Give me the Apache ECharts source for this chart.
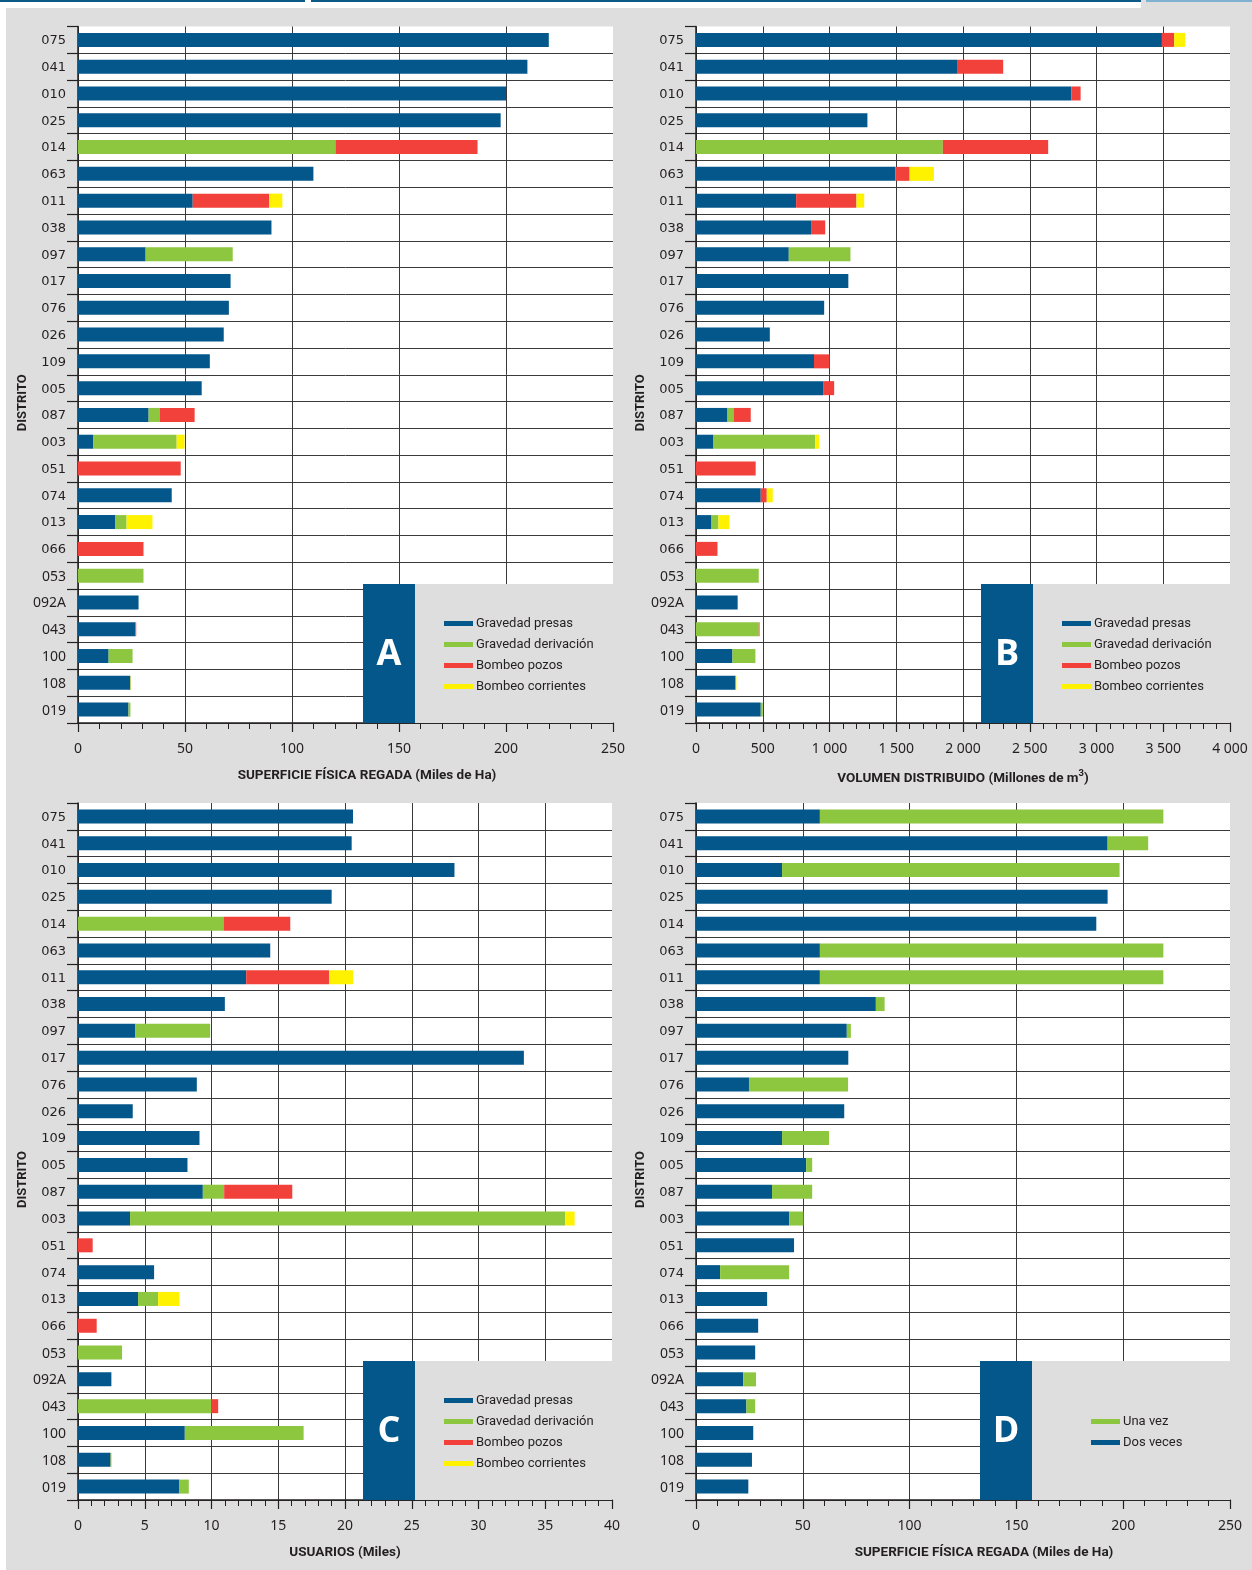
<!DOCTYPE html>
<html>
<head>
<meta charset="utf-8">
<script src="https://cdn.jsdelivr.net/npm/echarts@6/dist/echarts.min.js"></script>
<style>
  html, body { margin: 0; padding: 0; background: #fff; }
  #c { width: 1252px; height: 1570px; }
</style>
</head>
<body>
<div id="c"></div>
<script>
// Distritos de riego, in the order they are listed top to bottom
const districts = ['075','041','010','025','014','063','011','038','097','017','076','026','109','005','087','003','051','074','013','066','053','092A','043','100','108','019'];

// A: superficie física regada (miles de ha) por fuente de abastecimiento
const supPresas     = [220, 210, 200, 197.5, 0, 110, 53.6, 90.4, 31.6, 71.3, 70.5, 68.1, 61.6, 57.8, 33.0, 7.2, 0, 43.8, 17.5, 0, 0, 28.3, 26.8, 14.3, 24.5, 23.6];
const supDerivacion = [0, 0, 0, 0, 120.3, 0, 0, 0, 40.7, 0, 0, 0, 0, 0, 5.1, 38.9, 0, 0, 5.2, 0, 30.6, 0, 0, 11.2, 0, 0.9];
const supPozos      = [0, 0, 0, 0, 66.4, 0, 35.8, 0, 0, 0, 0, 0, 0, 0, 16.4, 0, 48.0, 0, 0, 30.6, 0, 0, 0.4, 0, 0, 0];
const supCorrientes = [0, 0, 0, 0, 0, 0, 6.1, 0, 0, 0, 0, 0, 0, 0, 0, 3.7, 0, 0, 12.1, 0, 0, 0, 0, 0, 0.2, 0];

// B: volumen distribuido (millones de m3)
const volPresas     = [3490, 1955, 2811, 1284, 0, 1494, 750, 862, 695, 1141, 960, 553, 884, 952, 236, 131, 0, 485, 116, 0, 0, 312, 0, 273, 297, 485];
const volDerivacion = [0, 0, 0, 0, 1849, 0, 0, 0, 462, 0, 0, 0, 0, 0, 45, 761, 0, 0, 52, 0, 470, 0, 470, 172, 0, 15];
const volPozos      = [92, 346, 70, 0, 789, 106, 452, 106, 0, 0, 0, 0, 116, 83, 129, 0, 447, 45, 0, 161, 0, 0, 6, 0, 0, 0];
const volCorrientes = [82, 0, 0, 0, 0, 182, 58, 0, 0, 0, 0, 0, 0, 0, 0, 30, 0, 45, 83, 0, 0, 0, 0, 0, 6, 0];

// C: usuarios (miles)
const usuPresas     = [20.6, 20.5, 28.2, 19.0, 0, 14.4, 12.6, 11.0, 4.3, 33.4, 8.9, 4.1, 9.1, 8.2, 9.35, 3.9, 0, 5.7, 4.5, 0, 0, 2.5, 0, 8.0, 2.45, 7.6];
const usuDerivacion = [0, 0, 0, 0, 10.9, 0, 0, 0, 5.6, 0, 0, 0, 0, 0, 1.6, 32.6, 0, 0, 1.5, 0, 3.3, 0, 10.0, 8.9, 0, 0.7];
const usuPozos      = [0, 0, 0, 0, 5.0, 0, 6.2, 0, 0, 0, 0, 0, 0, 0, 5.1, 0, 1.1, 0, 0, 1.4, 0, 0, 0.5, 0, 0, 0];
const usuCorrientes = [0, 0, 0, 0, 0, 0, 1.8, 0, 0, 0, 0, 0, 0, 0, 0, 0.7, 0, 0, 1.6, 0, 0, 0, 0, 0, 0.1, 0];

// D: superficie física regada (miles de ha) por número de riegos al año
const dosVeces = [58.0, 192.7, 40.3, 192.7, 187.4, 58.0, 58.0, 84.2, 70.6, 71.3, 24.8, 69.4, 40.3, 51.6, 35.6, 43.6, 45.9, 11.3, 33.3, 29.1, 27.7, 22.1, 23.6, 26.8, 26.2, 24.5];
const unaVez   = [160.8, 19.0, 158.0, 0, 0, 160.8, 160.8, 4.1, 1.9, 0, 46.4, 0, 22.0, 2.8, 18.8, 6.7, 0, 32.3, 0, 0, 0, 6.0, 4.1, 0, 0, 0];

// Axis scales per panel
const axisMax      = [250, 4000, 40, 250];
const axisInterval = [50, 500, 5, 50];
const panelLetters = ['A', 'B', 'C', 'D'];

const SOURCE_NAMES = ['Gravedad presas', 'Gravedad derivación', 'Bombeo pozos', 'Bombeo corrientes'];
const COL = { presas: '#03578A', deriv: '#8DC63F', pozos: '#F2403A', corr: '#FFF200' };
const INK = '#231f20';
const PANEL_BG = '#dedede';

const grids = [
  { left: 78,  top: 26.5, width: 535, height: 696.5 },
  { left: 696, top: 26.5, width: 534, height: 696.5 },
  { left: 78,  top: 803,  width: 534, height: 697 },
  { left: 696, top: 803,  width: 534, height: 697 }
];

const thousands = v => String(v).replace(/\B(?=(\d{3})+(?!\d))/g, ' ');

const axisNames = [
  'SUPERFICIE FÍSICA REGADA (Miles de Ha)',
  'VOLUMEN DISTRIBUIDO (Millones de m{sup|3})',
  'USUARIOS (Miles)',
  'SUPERFICIE FÍSICA REGADA (Miles de Ha)'
];
const namePadding = [[0, 0, 0, 43], [0, 0, 0, 0], [0, 0, 0, 0], [0, 0, 0, 42]];

const xAxes = grids.map((g, i) => ({
  gridIndex: i,
  type: 'value',
  min: 0,
  max: axisMax[i],
  interval: axisInterval[i],
  axisLine: { show: true, onZero: false, lineStyle: { color: INK, width: 1.5 } },
  axisTick: { show: true, length: 9, lineStyle: { color: INK, width: 1.2 } },
  minorTick: { show: true, splitNumber: 5, length: 6, lineStyle: { color: INK, width: 1 } },
  splitLine: { show: true, showMaxLine: false, lineStyle: { color: '#3a3a3a', width: 1 } },
  axisLabel: {
    fontFamily: 'Noto Sans', fontSize: 14, color: INK, margin: 19,
    formatter: v => thousands(v)
  },
  name: axisNames[i],
  nameLocation: 'middle',
  nameGap: 46,
  nameTextStyle: {
    fontFamily: 'Roboto', fontWeight: 'bold', fontSize: 13.5, color: INK,
    padding: namePadding[i],
    rich: { sup: { fontFamily: 'Roboto', fontWeight: 'bold', fontSize: 9.5, color: INK, verticalAlign: 'bottom', padding: [0, 0, 10, 0] } }
  }
}));

const yAxes = grids.map((g, i) => ({
  gridIndex: i,
  type: 'category',
  data: districts,
  inverse: true,
  axisLine: { show: true, lineStyle: { color: INK, width: 1.5 } },
  axisTick: { show: true, length: 11, lineStyle: { color: INK, width: 1.2 } },
  splitLine: { show: true, showMinLine: false, lineStyle: { color: '#3a3a3a', width: 1 } },
  axisLabel: {
    fontFamily: 'DejaVu Sans', fontSize: 13, color: INK, margin: 12,
    padding: [2, 0, 0, 0],
    formatter: (v, idx) => (idx >= 20 ? '{alt|' + v + '}' : v),
    rich: { alt: { fontFamily: 'Noto Sans', fontSize: 14, color: INK } }
  },
  name: 'DISTRITO',
  nameLocation: 'middle',
  nameRotate: 90,
  nameGap: 49,
  nameTextStyle: { fontFamily: 'Roboto', fontWeight: 'bold', fontSize: 13, color: INK, padding: [0, 56, 0, 0] }
}));

function stacked(gi, parts) {
  return parts.map(p => ({
    name: p.name,
    type: 'bar',
    xAxisIndex: gi,
    yAxisIndex: gi,
    stack: 'panel' + gi,
    barWidth: 14,
    itemStyle: { color: p.color },
    data: p.data
  }));
}

const series = [].concat(
  stacked(0, [
    { name: SOURCE_NAMES[0], color: COL.presas, data: supPresas },
    { name: SOURCE_NAMES[1], color: COL.deriv,  data: supDerivacion },
    { name: SOURCE_NAMES[2], color: COL.pozos,  data: supPozos },
    { name: SOURCE_NAMES[3], color: COL.corr,   data: supCorrientes }
  ]),
  stacked(1, [
    { name: SOURCE_NAMES[0], color: COL.presas, data: volPresas },
    { name: SOURCE_NAMES[1], color: COL.deriv,  data: volDerivacion },
    { name: SOURCE_NAMES[2], color: COL.pozos,  data: volPozos },
    { name: SOURCE_NAMES[3], color: COL.corr,   data: volCorrientes }
  ]),
  stacked(2, [
    { name: SOURCE_NAMES[0], color: COL.presas, data: usuPresas },
    { name: SOURCE_NAMES[1], color: COL.deriv,  data: usuDerivacion },
    { name: SOURCE_NAMES[2], color: COL.pozos,  data: usuPozos },
    { name: SOURCE_NAMES[3], color: COL.corr,   data: usuCorrientes }
  ]),
  stacked(3, [
    { name: 'Dos veces', color: COL.presas, data: dosVeces },
    { name: 'Una vez',   color: COL.deriv,  data: unaVez }
  ])
);

// Legend boxes sit in the lower right corner of each panel
const boxes = [
  { x: 363, y: 584,  w: 250, legendLeft: 444,  legendTop: 617 },
  { x: 981, y: 584,  w: 249, legendLeft: 1062, legendTop: 617 },
  { x: 363, y: 1361, w: 249, legendLeft: 444,  legendTop: 1394 },
  { x: 980, y: 1361, w: 250, legendLeft: 1091, legendTop: 1415 }
];
const legendData = [SOURCE_NAMES, SOURCE_NAMES, SOURCE_NAMES, ['Una vez', 'Dos veces']];

const legends = boxes.map((b, i) => ({
  orient: 'vertical',
  left: b.legendLeft,
  top: b.legendTop,
  padding: 0,
  data: legendData[i],
  icon: 'rect',
  itemWidth: 29,
  itemHeight: 5,
  itemGap: 8,
  selectedMode: false,
  z: 20,
  textStyle: { fontFamily: 'Roboto', fontSize: 13, color: INK, padding: [0, 0, 0, -2] }
}));

const graphics = [
  // page edge and header rules
  { type: 'rect', shape: { x: 0, y: 0, width: 1141, height: 8 }, style: { fill: '#ffffff' }, z: 1 },
  { type: 'rect', shape: { x: 0, y: 0, width: 6, height: 1570 }, style: { fill: '#ffffff' }, z: 1 },
  { type: 'rect', shape: { x: 0, y: 0, width: 305, height: 2 }, style: { fill: '#0b5a88' }, z: 2 },
  { type: 'rect', shape: { x: 311, y: 0, width: 830, height: 2 }, style: { fill: '#0b5a88' }, z: 2 },
  { type: 'rect', shape: { x: 1146, y: 0, width: 106, height: 2 }, style: { fill: '#7fb1d1' }, z: 2 }
];
boxes.forEach((b, i) => {
  const h = grids[i].top + grids[i].height - b.y;
  graphics.push(
    { type: 'rect', shape: { x: b.x, y: b.y, width: b.w, height: h }, style: { fill: PANEL_BG }, z: 10 },
    { type: 'rect', shape: { x: b.x, y: b.y, width: 52, height: h }, style: { fill: COL.presas }, z: 11 },
    {
      type: 'text', x: b.x + 26, y: b.y + h / 2 + 1, z: 12,
      style: {
        text: panelLetters[i], fill: '#ffffff', font: 'bold 36px "Open Sans"',
        textAlign: 'center', textVerticalAlign: 'middle'
      }
    }
  );
});

const chart = echarts.init(document.getElementById('c'), null, { renderer: 'canvas' });
chart.setOption({
  backgroundColor: PANEL_BG,
  animation: false,
  grid: grids.map(g => Object.assign({ show: true, backgroundColor: '#ffffff', borderWidth: 0, containLabel: false }, g)),
  xAxis: xAxes,
  yAxis: yAxes,
  legend: legends,
  graphic: { elements: graphics },
  series: series
});
</script>
</body>
</html>
